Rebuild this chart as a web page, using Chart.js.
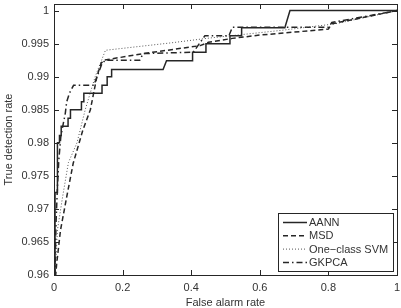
<!DOCTYPE html>
<html>
<head>
<meta charset="utf-8">
<script src="https://cdn.jsdelivr.net/npm/chart.js@4"></script>
<style>
  html, body { margin: 0; padding: 0; background: #fff; }
</style>
</head>
<body>
<canvas id="myChart" width="401" height="308"></canvas>
<script>
// ROC curves (false alarm rate vs true detection rate)
const aannX = [0, 0.003, 0.003, 0.01, 0.01, 0.016, 0.016, 0.021, 0.021, 0.041, 0.041, 0.048, 0.048, 0.080, 0.080, 0.087, 0.087, 0.140, 0.140, 0.155, 0.155, 0.168, 0.168, 0.318, 0.328, 0.404, 0.404, 0.443, 0.443, 0.513, 0.513, 0.547, 0.547, 0.673, 0.688, 1]
const aannY = [0.96, 0.96, 0.9725, 0.9725, 0.98, 0.98, 0.9811, 0.9811, 0.9825, 0.9825, 0.9837, 0.9837, 0.985, 0.985, 0.9862, 0.9862, 0.9875, 0.9875, 0.9887, 0.9887, 0.99, 0.99, 0.9911, 0.9911, 0.9924, 0.9924, 0.9937, 0.9937, 0.995, 0.995, 0.9962, 0.9962, 0.9974, 0.9974, 1, 1]

const msdX = [0, 0.005, 0.008, 0.019, 0.037, 0.056, 0.084, 0.106, 0.125, 0.137, 0.145, 0.26, 0.33, 0.426, 0.45, 0.52, 0.6, 0.8, 0.81, 1]
const msdY = [0.96, 0.96, 0.9618, 0.9668, 0.9718, 0.9769, 0.9819, 0.985, 0.99, 0.992, 0.9925, 0.9935, 0.994, 0.9947, 0.9952, 0.9958, 0.9963, 0.9972, 0.998, 1]

const svmX = [0, 0.003, 0.01, 0.025, 0.042, 0.067, 0.091, 0.12, 0.15, 0.338, 0.445, 0.66, 0.82, 1]
const svmY = [0.96, 0.96, 0.9668, 0.9718, 0.977, 0.98, 0.985, 0.99, 0.994, 0.9951, 0.9958, 0.997, 0.998, 1]

const gkpcaX = [0, 0.003, 0.006, 0.01, 0.014, 0.02, 0.033, 0.037, 0.045, 0.057, 0.116, 0.14, 0.15, 0.25, 0.26, 0.406, 0.44, 0.51, 0.52, 0.8, 0.81, 1]
const gkpcaY = [0.96, 0.96, 0.968, 0.9733, 0.9774, 0.981, 0.9845, 0.9862, 0.9875, 0.9887, 0.9887, 0.992, 0.9925, 0.9925, 0.9935, 0.9937, 0.9962, 0.9962, 0.9975, 0.9975, 0.9982, 1]

const seriesNames = ["AANN", "MSD", "One\u2212class SVM", "GKPCA"]
const xTicks = [0, 0.2, 0.4, 0.6, 0.8, 1]
const yTicks = [0.96, 0.965, 0.97, 0.975, 0.98, 0.985, 0.99, 0.995, 1]

const FONT = "'Liberation Sans', Arial, sans-serif"
const INK = "#262626"

function toPoints(xs, ys) {
    return xs.map((x, i) => ({ x: x, y: ys[i] }))
}

function fmt(v) {
    return String(+v.toFixed(3))
}

// matlab style box with inward ticks + legend inside the plot
const boxPlugin = {
    id: "box",
    afterDraw(chart) {
        const ctx = chart.ctx
        const a = chart.chartArea
        const xs = chart.scales.x
        const ys = chart.scales.y
        const tl = 5
        ctx.save()
        ctx.strokeStyle = INK
        ctx.lineWidth = 1
        ctx.beginPath()
        xTicks.forEach(v => {
            const px = Math.round(xs.getPixelForValue(v)) + 0.5
            ctx.moveTo(px, a.bottom); ctx.lineTo(px, a.bottom - tl)
            ctx.moveTo(px, a.top); ctx.lineTo(px, a.top + tl)
        })
        yTicks.forEach(v => {
            const py = Math.round(ys.getPixelForValue(v)) + 0.5
            ctx.moveTo(a.left, py); ctx.lineTo(a.left + tl, py)
            ctx.moveTo(a.right, py); ctx.lineTo(a.right - tl, py)
        })
        ctx.stroke()
        ctx.strokeRect(Math.round(a.left) + 0.5, Math.round(a.top) + 0.5, Math.round(a.right - a.left), Math.round(a.bottom - a.top))

        // legend
        const lx = 278, ly = 213, lw = 115, lh = 58
        ctx.fillStyle = "#fff"
        ctx.fillRect(lx, ly, lw, lh)
        ctx.strokeRect(lx + 0.5, ly + 0.5, lw, lh)
        ctx.font = "11px " + FONT
        ctx.textBaseline = "middle"
        chart.data.datasets.forEach((ds, i) => {
            const ry = ly + 9.5 + i * 13.3
            ctx.beginPath()
            ctx.setLineDash(ds.borderDash || [])
            ctx.strokeStyle = ds.borderColor
            ctx.lineWidth = ds.borderWidth
            ctx.moveTo(lx + 5, ry); ctx.lineTo(lx + 29, ry)
            ctx.stroke()
            ctx.setLineDash([])
            ctx.fillStyle = "#333"
            ctx.fillText(ds.label, lx + 31, ry + 0.5)
        })
        ctx.restore()
    }
}

const ctx = document.getElementById("myChart")

new Chart(ctx, {
    type: "line",
    data: {
        datasets: [{
            label: seriesNames[0],
            data: toPoints(aannX, aannY),
            borderColor: INK,
            borderWidth: 1.5,
        }, {
            label: seriesNames[1],
            data: toPoints(msdX, msdY),
            borderColor: INK,
            borderWidth: 1.5,
            borderDash: [5, 3],
        }, {
            label: seriesNames[2],
            data: toPoints(svmX, svmY),
            borderColor: "#555",
            borderWidth: 1,
            borderDash: [1, 2],
        }, {
            label: seriesNames[3],
            data: toPoints(gkpcaX, gkpcaY),
            borderColor: INK,
            borderWidth: 1.5,
            borderDash: [6, 3, 1.5, 3],
        }]
    },
    options: {
        responsive: false,
        animation: false,
        devicePixelRatio: 1,
        elements: { point: { radius: 0 }, line: { tension: 0 } },
        layout: { padding: { top: 4, right: 4, left: 0, bottom: 0 } },
        plugins: { legend: { display: false }, tooltip: { enabled: false } },
        scales: {
            x: {
                type: "linear",
                min: 0,
                max: 1,
                afterBuildTicks: s => { s.ticks = xTicks.map(v => ({ value: v })) },
                afterFit: s => { s.height = 33; s.paddingLeft = 0; s.paddingRight = 0 },
                grid: { display: false, drawTicks: false, tickLength: 0 },
                border: { display: false },
                ticks: { padding: 6, color: "#333", font: { family: FONT, size: 11 }, maxRotation: 0, callback: v => fmt(v) },
                title: { display: true, text: "False alarm rate", color: "#333", font: { family: FONT, size: 11, lineHeight: 1 }, padding: { top: -2, bottom: 0 } }
            },
            y: {
                type: "linear",
                min: 0.96,
                max: 1.001,
                afterBuildTicks: s => { s.ticks = yTicks.map(v => ({ value: v })) },
                afterFit: s => { s.width = 54; s.paddingTop = 0; s.paddingBottom = 0 },
                grid: { display: false, drawTicks: false, tickLength: 0 },
                border: { display: false },
                ticks: { padding: 5, color: "#333", font: { family: FONT, size: 11 }, callback: v => fmt(v) },
                title: { display: true, text: "True detection rate", color: "#333", font: { family: FONT, size: 11, lineHeight: 1 }, padding: { top: 3, bottom: 0 } }
            }
        }
    },
    plugins: [boxPlugin]
})
</script>
</body>
</html>
